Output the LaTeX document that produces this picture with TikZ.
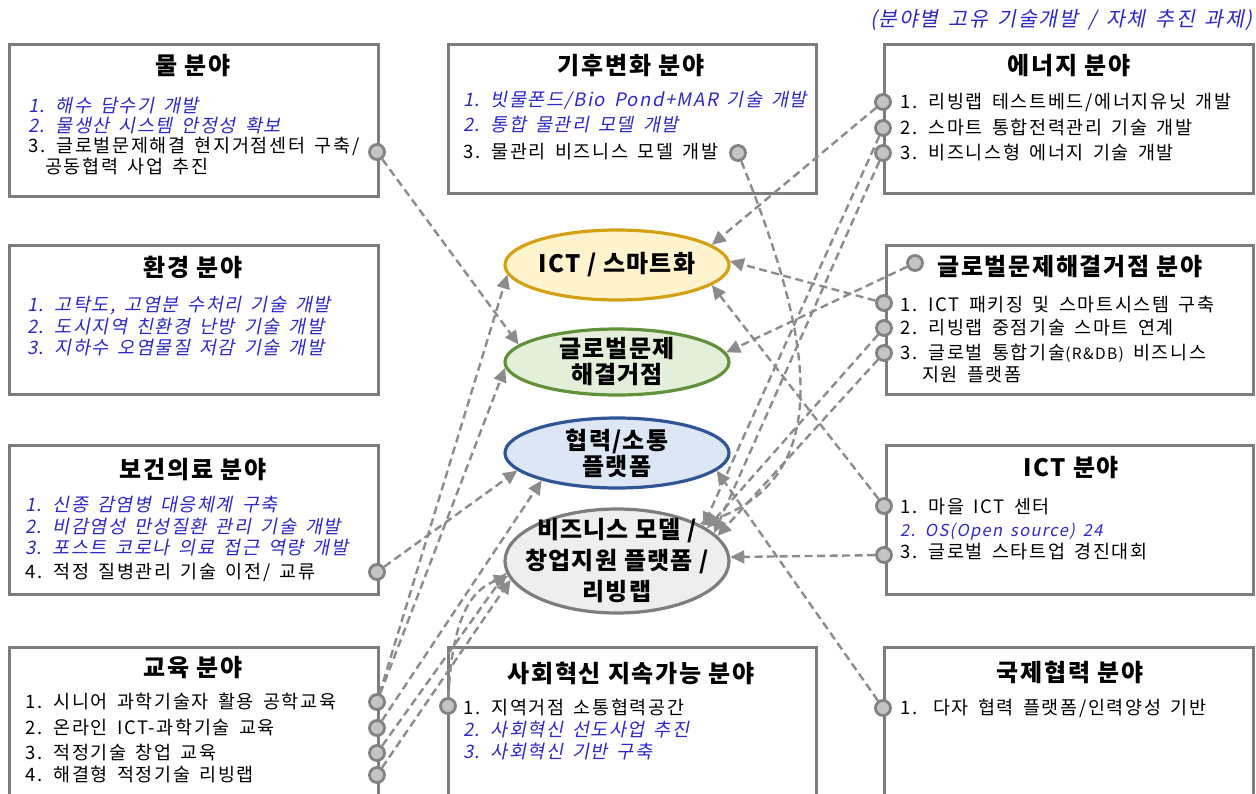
\documentclass[tikz,border=0pt]{standalone}
\usepackage{fontspec}
\setmainfont{Noto Sans CJK KR}
\newfontfamily\kr{Noto Sans CJK KR}
\newfontfamily\krttl[LetterSpace=7]{Noto Sans CJK KR}
\newfontfamily\krell[LetterSpace=5]{Noto Sans CJK KR}
\newfontfamily\krsp[LetterSpace=9,WordSpace=1.6]{Noto Sans CJK KR}
\newfontfamily\krit[FakeSlant=0.2,LetterSpace=8,WordSpace=1.6]{Noto Sans CJK KR}
\usetikzlibrary{shapes.geometric,arrows.meta}
\definecolor{boxgray}{RGB}{125,125,125}
\definecolor{portfill}{RGB}{196,196,196}
\definecolor{portdraw}{RGB}{130,130,130}
\definecolor{linkgray}{RGB}{140,140,140}
\definecolor{itblue}{RGB}{45,40,200}
\definecolor{ictfill}{RGB}{255,244,206}
\definecolor{ictdraw}{RGB}{212,160,20}
\definecolor{globfill}{RGB}{227,239,217}
\definecolor{globdraw}{RGB}{98,145,60}
\definecolor{colfill}{RGB}{220,230,244}
\definecolor{coldraw}{RGB}{47,85,151}
\definecolor{bizfill}{RGB}{238,238,238}
\definecolor{bizdraw}{RGB}{125,125,125}
\begin{document}
\begin{tikzpicture}[x=1pt,y=-1pt,
  box/.style={draw=boxgray,line width=2.5pt,fill=white,anchor=north west,inner sep=0pt},
  port/.style={circle,draw=portdraw,fill=portfill,line width=2.8pt,minimum size=15pt,inner sep=0pt},
  link/.style={draw=linkgray,line width=2.4pt,dash pattern=on 8pt off 4.5pt,-{Triangle[length=14pt,width=13pt]}},
  ttl/.style={font=\krttl\bfseries\fontsize{24}{28}\selectfont,inner sep=0pt},
  itm/.style={font=\krsp\fontsize{18.5}{21}\selectfont,anchor=base west,inner sep=0pt},
  iti/.style={font=\krit\fontsize{18.5}{21}\selectfont,text=itblue,anchor=base west,inner sep=0pt},
  ell/.style={ellipse,line width=3.2pt,minimum width=224pt,minimum height=70pt,inner sep=0pt},
  etxt/.style={font=\krell\bfseries\fontsize{24}{26}\selectfont,align=center,inner sep=0pt},
]
\useasboundingbox (0,0) rectangle (1256,793);
\fill[white] (0,0) rectangle (1256,793);

% note
\node[font=\krit\fontsize{20.5}{24}\selectfont,text=itblue,anchor=east,inner sep=0pt] (note) at (1253,20) {(분야별 고유 기술개발 / 자체 추진 과제)};

% boxes
\node[box,minimum width=369pt,minimum height=152pt] (mulbox) at (8,43) {};
\node[box,minimum width=368pt,minimum height=149pt] (climbox) at (447,43) {};
\node[box,minimum width=369pt,minimum height=149pt] (enbox) at (883,43) {};
\node[box,minimum width=369pt,minimum height=149pt] (envbox) at (8,244) {};
\node[box,minimum width=367pt,minimum height=149pt] (globbox) at (885,244) {};
\node[box,minimum width=369pt,minimum height=149pt] (healthbox) at (8,444) {};
\node[box,minimum width=367pt,minimum height=149pt] (ictbox) at (885,444) {};
\node[box,minimum width=369pt,minimum height=170pt] (edubox) at (8,646) {};
\node[box,minimum width=368pt,minimum height=170pt] (socbox) at (447,646) {};
\node[box,minimum width=369pt,minimum height=170pt] (intlbox) at (883,646) {};

% titles
\node[ttl] (mulT) at (193,66) {물 분야};
\node[ttl] (climT) at (631,66) {기후변화 분야};
\node[ttl] (enT) at (1069,66) {에너지 분야};
\node[ttl] (envT) at (193,267) {환경 분야};
\node[ttl] (globT) at (1070,267) {글로벌문제해결거점 분야};
\node[ttl] (healthT) at (193,470) {보건의료 분야};
\node[ttl] (ictT) at (1071,468) {ICT 분야};
\node[ttl] (eduT) at (193,668) {교육 분야};
\node[ttl] (socT) at (631,673) {사회혁신 지속가능 분야};
\node[ttl] (intlT) at (1070,672) {국제협력 분야};

% items: water
\node[iti] (mul1) at (28,112) {1. 해수 담수기 개발};
\node[iti] (mul2) at (28,132) {2. 물생산 시스템 안정성 확보};
\node[itm] (mul3t) at (28,152) {3. 글로벌문제해결 현지거점센터 구축/};
\node[itm] (mul3b) at (45,173) {공동협력 사업 추진};
% climate
\node[iti] (clim1) at (463,106) {1. 빗물폰드/Bio Pond+MAR 기술 개발};
\node[iti] (clim2) at (463,131) {2. 통합 물관리 모델 개발};
\node[itm] (clim3t) at (463,158) {3. 물관리 비즈니스 모델 개발};
% energy
\node[itm] (en1t) at (900,108) {1. 리빙랩 테스트베드/에너지유닛 개발};
\node[itm] (en2t) at (900,134) {2. 스마트 통합전력관리 기술 개발};
\node[itm] (en3t) at (900,159) {3. 비즈니스형 에너지 기술 개발};
% environment
\node[iti] (env1) at (27,311) {1. 고탁도, 고염분 수처리 기술 개발};
\node[iti] (env2) at (27,333) {2. 도시지역 친환경 난방 기술 개발};
\node[iti] (env3) at (27,354) {3. 지하수 오염물질 저감 기술 개발};
% global
\node[itm] (glob1t) at (900,311) {1. ICT 패키징 및 스마트시스템 구축};
\node[itm] (glob2t) at (900,334) {2. 리빙랩 중점기술 스마트 연계};
\node[itm] (glob3t) at (900,359) {3. 글로벌 통합기술{\fontsize{15.5}{18}\selectfont(R\&DB)} 비즈니스};
\node[itm] (glob3b) at (922,381) {지원 플랫폼};
% health
\node[iti] (h1) at (25,511) {1. 신종 감염병 대응체계 구축};
\node[iti] (h2) at (25,533) {2. 비감염성 만성질환 관리 기술 개발};
\node[iti] (h3) at (25,554) {3. 포스트 코로나 의료 접근 역량 개발};
\node[itm] (h4) at (25,578) {4. 적정 질병관리 기술 이전/ 교류};
% ict
\node[itm] (ict1t) at (900,513) {1. 마을 ICT 센터};
\node[iti,font=\krit\fontsize{16.5}{20}\selectfont] (ict2t) at (900,536) {2. OS(Open source) 24};
\node[itm] (ict3t) at (900,558) {3. 글로벌 스타트업 경진대회};
% education
\node[itm] (e1) at (25,708) {1. 시니어 과학기술자 활용 공학교육};
\node[itm] (e2) at (25,734) {2. 온라인 ICT-과학기술 교육};
\node[itm] (e3) at (25,759) {3. 적정기술 창업 교육};
\node[itm] (e4) at (25,781) {4. 해결형 적정기술 리빙랩};
% social
\node[itm] (s1) at (463,714) {1. 지역거점 소통협력공간};
\node[iti] (s2) at (463,736) {2. 사회혁신 선도사업 추진};
\node[iti] (s3) at (463,758) {3. 사회혁신 기반 구축};
% international
\node[itm] (i1) at (900,714) {1.\hspace{16pt}다자 협력 플랫폼/인력양성 기반};

% ellipses
\node[ell,draw=ictdraw,fill=ictfill] (ict) at (617,265) {};
\node[etxt] (ictx) at (ict) {ICT / 스마트화};
\node[ell,draw=globdraw,fill=globfill,minimum height=66pt] (glob) at (617,362) {};
\node[etxt] (globx) at (glob) {글로벌문제\\해결거점};
\node[ell,draw=coldraw,fill=colfill] (col) at (617,453) {};
\node[etxt] (colx) at (col) {협력/소통\\플랫폼};
\node[ell,draw=bizdraw,fill=bizfill,minimum height=104pt] (biz) at (617,561) {};
\node[etxt,font=\krell\bfseries\fontsize{24}{31}\selectfont] (bizx) at (biz) {비즈니스 모델 /\\창업지원 플랫폼 /\\리빙랩};

% ports
\node[port] (pmul3) at (377,152) {};
\node[port] (pclim3) at (738,153) {};
\node[port] (pen1) at (883,102) {};
\node[port] (pen2) at (883,128) {};
\node[port] (pen3) at (883,153) {};
\node[port] (pglobT) at (915,263) {};
\node[port] (pglob1) at (884,303) {};
\node[port] (pglob2) at (884,328) {};
\node[port] (pglob3) at (884,353) {};
\node[port] (pict1) at (884,506) {};
\node[port] (pict3) at (884,555) {};
\node[port] (ph4) at (377,572) {};
\node[port] (pe1) at (377,702) {};
\node[port] (pe2) at (377,728) {};
\node[port] (pe3) at (377,753) {};
\node[port] (pe4) at (377,775) {};
\node[port] (ps1) at (448,706) {};
\node[port] (pi1) at (883,708) {};

% links
\draw[link] (pmul3) -- (glob.170);
\draw[link] (pclim3) .. controls (805,320) and (845,475) .. (biz.24);
\draw[link] (pen1) -- (ict.12);
\draw[link] (pen2) -- (biz.22);
\draw[link] (pen3) -- (biz.16);
\draw[link] (pglobT) -- (glob.5);
\draw[link] (pglob1) -- (ict.2);
\draw[link] (pglob2) -- (biz.20);
\draw[link] (pglob3) -- (biz.14);
\draw[link] (pict1) -- (ict.-12);
\draw[link] (pict3) -- (biz.2);
\draw[link] (pi1) -- (col.-10);
\draw[link] (ph4) -- (col.190);
\draw[link] (pe1) -- (ict.185);
\draw[link] (pe1) -- (glob.183);
\draw[link] (pe2) -- (col.200);
\draw[link] (pe3) -- (biz.186);
\draw[link] (pe4) -- (biz.190);
\draw[link] (ps1) .. controls (452,620) and (470,590) .. (biz.188);
\end{tikzpicture}
\end{document}
